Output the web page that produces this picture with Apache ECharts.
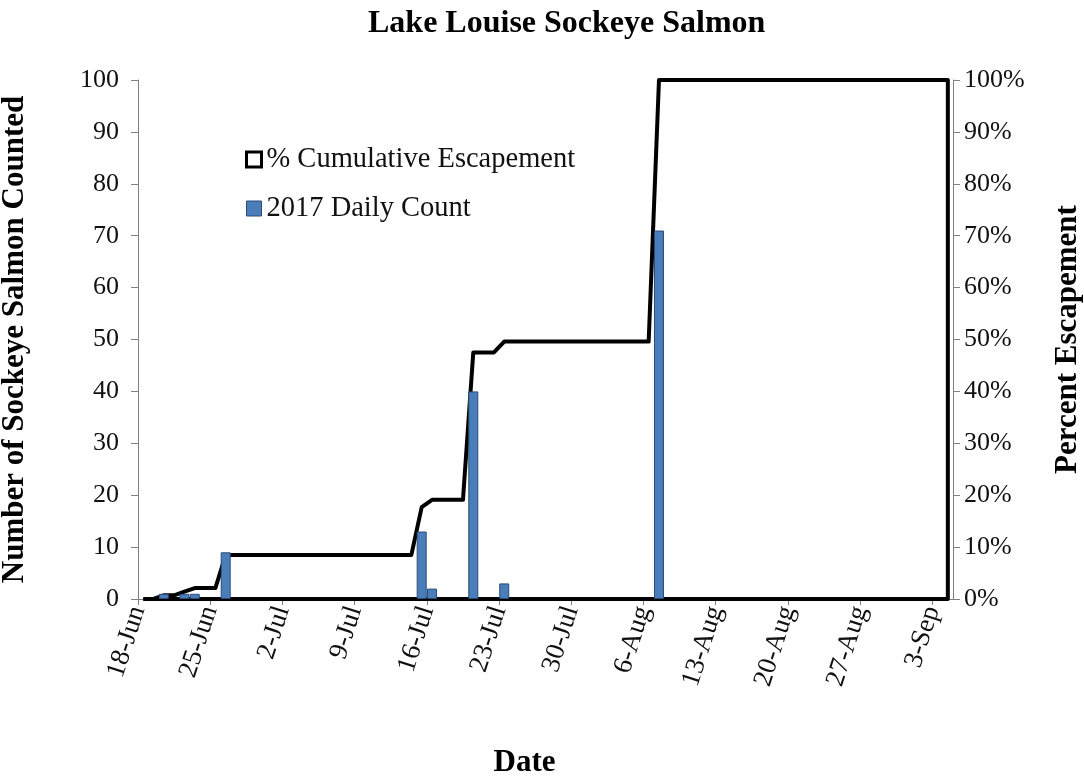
<!DOCTYPE html>
<html>
<head>
<meta charset="utf-8">
<script src="https://cdn.jsdelivr.net/npm/echarts@6/dist/echarts.min.js"></script>
<style>
  html, body { margin: 0; padding: 0; background: #fff; }
  #main { width: 1084px; height: 778px; }
</style>
</head>
<body>
<div id="main"></div>
<script>
// axis runs one slot per day, 18-Jun through 4-Sep 2017
const startDate = '2017-06-18'
const endDate = '2017-09-04'
const tickLabels = ['18-Jun', '25-Jun', '2-Jul', '9-Jul', '16-Jul', '23-Jul',
    '30-Jul', '6-Aug', '13-Aug', '20-Aug', '27-Aug', '3-Sep']

// days with fish counted
const countDates = ['2017-06-20', '2017-06-22', '2017-06-23', '2017-06-26',
    '2017-07-15', '2017-07-16', '2017-07-20', '2017-07-23', '2017-08-07']
const dailyCounts = [1, 1, 1, 9, 13, 2, 40, 3, 71]
const cumulativePct = [0.7, 1.4, 2.1, 8.5, 17.7, 19.1, 47.5, 49.6, 100]

const serif = '"Liberation Serif", "DejaVu Serif", serif'

function dayIndex(iso) {
    return Math.round((Date.parse(iso) - Date.parse(startDate)) / 86400000)
}

const lastDay = dayIndex(endDate)
const axisDays = lastDay + 1

// bars sit in the middle of their day slot
const barData = countDates.map((d, i) => [dayIndex(d) + 0.5, dailyCounts[i]])

// cumulative line: one point per day, holding the last value
const lineData = []
let k = 0
let cur = 0
for (let d = 0; d <= lastDay; d++) {
    while (k < countDates.length && dayIndex(countDates[k]) <= d) {
        cur = cumulativePct[k]
        k++
    }
    lineData.push([d + 0.5, cur])
}
// the series closes back down to zero and along the base
lineData.push([lastDay + 0.5, 0])
lineData.push([0.5, 0])

const chart = echarts.init(document.getElementById('main'))

const option = {
    animation: false,
    backgroundColor: '#fff',
    title: {
        text: 'Lake Louise Sockeye Salmon',
        left: 363,
        top: 3,
        textStyle: { fontFamily: serif, fontSize: 32, fontWeight: 'bold', color: '#000' }
    },
    legend: {
        orient: 'vertical',
        left: 240,
        top: 140,
        itemGap: 20,
        itemWidth: 15,
        itemHeight: 15,
        textStyle: { fontFamily: serif, fontSize: 28.5, color: '#111' },
        data: [
            {
                name: '% Cumulative Escapement',
                icon: 'rect',
                itemStyle: { color: '#fff', borderColor: '#000', borderWidth: 3 }
            },
            {
                name: '2017 Daily Count',
                icon: 'rect',
                itemStyle: { color: '#4a7ebb', borderColor: '#2a4a78', borderWidth: 1 }
            }
        ]
    },
    grid: {
        left: 138,
        right: 131,
        top: 80,
        bottom: 179,
        containLabel: false,
        outerBoundsMode: 'none'
    },
    xAxis: {
        type: 'value',
        min: 0,
        max: axisDays,
        interval: 7,
        name: 'Date',
        nameLocation: 'middle',
        nameGap: 148,
        nameTextStyle: {
            fontFamily: serif, fontSize: 31, fontWeight: 'bold', color: '#000',
            padding: [0, 42, 0, 0]
        },
        splitLine: { show: false },
        axisLine: { lineStyle: { color: '#808080', width: 1 } },
        axisTick: { show: true, length: 6, lineStyle: { color: '#808080' } },
        axisLabel: {
            rotate: 72,
            margin: 8,
            fontFamily: serif,
            fontSize: 27,
            color: '#111',
            showMaxLabel: false,
            formatter: v => (v % 7 === 0 && v / 7 < tickLabels.length) ? tickLabels[v / 7] : ''
        }
    },
    yAxis: [
        {
            type: 'value',
            min: 0,
            max: 100,
            interval: 10,
            name: 'Number of Sockeye Salmon Counted',
            nameLocation: 'middle',
            nameRotate: 90,
            nameGap: 108,
            nameTextStyle: { fontFamily: serif, fontSize: 31, fontWeight: 'bold', color: '#000' },
            splitLine: { show: false },
            axisLine: { show: true, lineStyle: { color: '#808080' } },
            axisTick: { show: true, length: 7, lineStyle: { color: '#808080' } },
            axisLabel: { fontFamily: serif, fontSize: 26, color: '#111', margin: 19 }
        },
        {
            type: 'value',
            min: 0,
            max: 100,
            interval: 10,
            position: 'right',
            name: 'Percent Escapement',
            nameLocation: 'middle',
            nameRotate: 90,
            nameGap: 99,
            nameTextStyle: { fontFamily: serif, fontSize: 31, fontWeight: 'bold', color: '#000' },
            splitLine: { show: false },
            axisLine: { show: true, lineStyle: { color: '#808080' } },
            axisTick: { show: true, length: 7, lineStyle: { color: '#808080' } },
            axisLabel: {
                fontFamily: serif, fontSize: 26, color: '#111', margin: 11,
                formatter: '{value}%'
            }
        }
    ],
    series: [
        {
            name: '% Cumulative Escapement',
            type: 'line',
            yAxisIndex: 1,
            data: lineData,
            showSymbol: false,
            symbol: 'none',
            lineStyle: { color: '#000', width: 4, join: 'round' },
            itemStyle: { color: '#000' },
            z: 2
        },
        {
            name: '2017 Daily Count',
            type: 'bar',
            yAxisIndex: 0,
            barWidth: 10,
            barCategoryGap: '4%',
            data: barData,
            itemStyle: { color: '#4a7ebb', borderColor: '#2a4a78', borderWidth: 1 },
            z: 3
        }
    ]
}

chart.setOption(option)
window.onresize = function () {
    chart.resize()
}
</script>
</body>
</html>
